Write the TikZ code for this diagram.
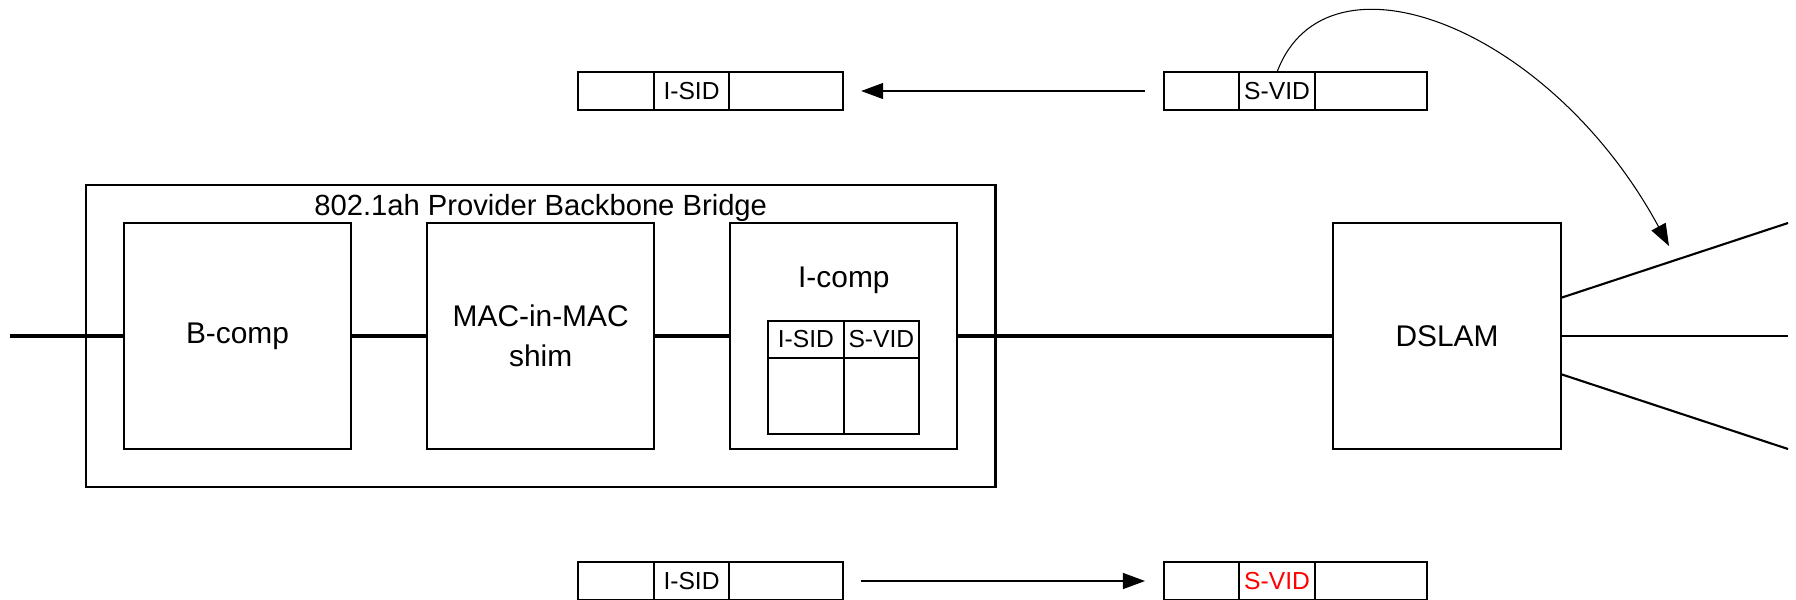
\documentclass[tikz,border=0pt]{standalone}
\usepackage{fontspec}
\setmainfont{Liberation Sans}
\usepackage{xcolor}
\usetikzlibrary{positioning,arrows.meta,fit}
\tikzset{
comp/.style={
draw,
line width=0.6pt,
minimum width=2.27cm,
minimum height=2.26cm,
inner sep=0pt,
outer sep=0pt,
align=center,
font=\fontsize{8.5}{11.4}\selectfont
},
cell/.style={
draw,
line width=0.5pt,
minimum height=0.38cm,
inner sep=0pt,
outer sep=0pt,
font=\fontsize{7}{8}\selectfont
},
wire/.style={
line width=0.9pt
},
arrow/.style={
-{Triangle[length=2.2mm,width=1.6mm]},
line width=0.3pt
}
}

\begin{document}
\begin{tikzpicture}[x=0.01cm,y=-0.01cm,node distance=0.76cm]
\useasboundingbox (0,0) rectangle (1796,600);

% bridge components
\node[comp](bcomp) at (237.5,336){B-comp};
\node[comp,right=of bcomp](shim){MAC-in-MAC\\shim};
\node[comp,right=of shim](icomp){};
\node[font=\fontsize{8.5}{10}\selectfont](ilabel) at ([yshift=-0.57cm]icomp.north){I-comp};
\node[cell,minimum width=0.76cm,minimum height=0.37cm,anchor=north east](isidh) at ([yshift=-0.98cm]icomp.north){I-SID};
\node[cell,minimum width=0.75cm,minimum height=0.37cm,right=0pt of isidh](svidh){S-VID};
\node[cell,minimum width=0.76cm,minimum height=0.76cm,below=0pt of isidh](isidb){};
\node[cell,minimum width=0.75cm,minimum height=0.76cm,below=0pt of svidh](svidb){};
\node[draw,line width=0.6pt,inner sep=0.38cm,fit=(bcomp)(icomp)](pbb){};
\node[font=\fontsize{8.3}{10}\selectfont](pbbtitle) at ([yshift=-0.24cm]pbb.north){802.1ah Provider Backbone Bridge};

\node[comp](dslam) at (1447,336){DSLAM};

% wiring
\coordinate(lin) at (10,336);
\coordinate(uout) at (1788,223);
\coordinate(mout) at (1788,336);
\coordinate(lout) at (1788,449);
\draw[wire](lin)--(bcomp.west);
\draw[wire](bcomp)--(shim);
\draw[wire](shim)--(icomp);
\draw[wire](icomp)--(dslam);
\draw[line width=0.6pt]([yshift=0.38cm]dslam.east)--(uout);
\draw[line width=0.4pt](dslam.east)--(mout);
\draw[line width=0.6pt]([yshift=-0.38cm]dslam.east)--(lout);

% frames on top
\node[cell,minimum width=0.76cm,anchor=north west](tf1) at (578,72){};
\node[cell,minimum width=0.75cm,right=0pt of tf1](tf2){I-SID};
\node[cell,minimum width=1.14cm,right=0pt of tf2](tf3){};
\node[cell,minimum width=0.75cm,anchor=north west](sf1) at (1164,72){};
\node[cell,minimum width=0.76cm,right=0pt of sf1](sf2){S-VID};
\node[cell,minimum width=1.12cm,right=0pt of sf2](sf3){};
\draw[arrow]([xshift=-0.19cm]sf1.west)--([xshift=0.18cm]tf3.east);
\coordinate(tipc) at (1669,246);
\draw[arrow](sf2.north) .. controls (1326,-59) and (1550,26) .. (tipc);

% frames at bottom
\node[cell,minimum width=0.76cm,anchor=north west](bf1) at (578,562){};
\node[cell,minimum width=0.75cm,right=0pt of bf1](bf2){I-SID};
\node[cell,minimum width=1.14cm,right=0pt of bf2](bf3){};
\node[cell,minimum width=0.75cm,anchor=north west](bsf1) at (1164,562){};
\node[cell,minimum width=0.76cm,right=0pt of bsf1,text=red](bsf2){S-VID};
\node[cell,minimum width=1.12cm,right=0pt of bsf2](bsf3){};
\draw[arrow]([xshift=0.18cm]bf3.east)--([xshift=-0.19cm]bsf1.west);
\end{tikzpicture}
\end{document}
